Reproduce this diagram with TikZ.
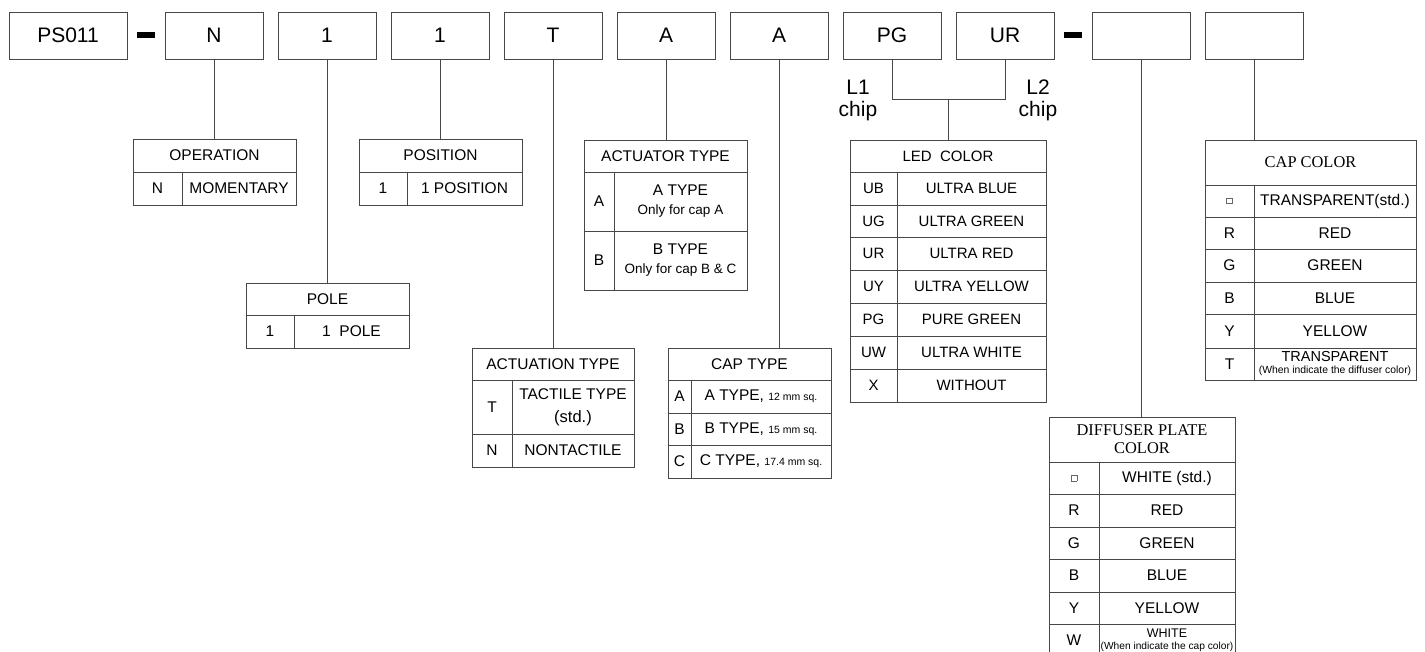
\documentclass[tikz,border=0pt]{standalone}
\usepackage{fontspec}
\setmainfont{Liberation Sans}
\newfontfamily\tmsfont{Liberation Serif}
\colorlet{lc}{black!72}
\newcommand\cellat[6]{\node[cell,minimum width=#4pt,minimum height=#5pt] (#1) at (#2,#3) {#6};}
\newcommand\sq{{\color{black!60}\fboxsep=0pt\fboxrule=0.6pt\fbox{\rule{0pt}{5pt}\rule{5pt}{0pt}}}}
\newcommand\smalltxt[1]{{\fontsize{13.5}{15}\selectfont #1}}
\newcommand\tinytxt[1]{{\fontsize{10.5}{12}\selectfont #1}}
\tikzset{
  topbox/.style={draw=lc, line width=0.9pt, minimum width=98pt, minimum height=47pt,
    inner sep=0pt, outer sep=0pt, anchor=north west, font=\fontsize{21}{21}\selectfont},
  cell/.style={draw=lc, line width=0.9pt, inner sep=0pt, outer sep=0pt, anchor=north west,
    align=center, font=\fontsize{15.5}{20}\selectfont},
  serifhead/.style={cell, font=\tmsfont\fontsize{16.4}{18}\selectfont},
  conn/.style={draw=lc, line width=0.9pt},
  dashbar/.style={fill=black, draw=none, inner sep=0pt, minimum width=18pt, minimum height=6pt},
  chiplabel/.style={anchor=base, inner sep=0pt, font=\fontsize{21}{21}\selectfont},
}
\begin{document}
\begin{tikzpicture}[x=1pt,y=-1pt]
\useasboundingbox (0,0) rectangle (1425,652);
\clip (0,0) rectangle (1425,652);
\fill[white] (0,0) rectangle (1425,652);

% top row
\node[topbox, minimum width=118pt] (ps) at (9,12) {PS011};
\node[dashbar] (d1) at (146,35) {};
\node[topbox] (bn) at (165,12) {N};
\node[topbox] (bp) at (278,12) {1};
\node[topbox] (bs) at (391,12) {1};
\node[topbox] (bt) at (504,12) {T};
\node[topbox] (ba) at (617,12) {A};
\node[topbox] (bc) at (730,12) {A};
\node[topbox] (bpg) at (843,12) {PG};
\node[topbox] (bur) at (956,12) {UR};
\node[dashbar] (d2) at (1073,35) {};
\node[topbox] (bdf) at (1092,12) {};
\node[topbox] (bcc) at (1205,12) {};

\node[chiplabel] (l1a) at (858,95) {L1};
\node[chiplabel] (l1b) at (858,117) {chip};
\node[chiplabel] (l2a) at (1038,95) {L2};
\node[chiplabel] (l2b) at (1038,117) {chip};

% OPERATION
\cellat{opH}{133}{139}{163}{33}{OPERATION}
\cellat{opK}{133}{172}{49}{33}{N}
\cellat{opV}{182}{172}{114}{33}{MOMENTARY}
% POSITION
\cellat{posH}{359}{139}{163}{33}{POSITION}
\cellat{posK}{359}{172}{48}{33}{1}
\cellat{posV}{407}{172}{115}{33}{1 POSITION}
% POLE
\cellat{poleH}{246}{283}{163}{32}{POLE}
\cellat{poleK}{246}{315}{48}{33}{1}
\cellat{poleV}{294}{315}{115}{33}{1\ \ POLE}
% ACTUATOR TYPE
\cellat{actH}{584}{140}{163}{32}{ACTUATOR TYPE}
\cellat{actKa}{584}{172}{30}{59}{A}
\cellat{actVa}{614}{172}{133}{59}{A TYPE\\[-1pt]\smalltxt{Only for cap A}}
\cellat{actKb}{584}{231}{30}{59}{B}
\cellat{actVb}{614}{231}{133}{59}{B TYPE\\[-1pt]\smalltxt{Only for cap B \& C}}
% ACTUATION TYPE
\cellat{atnH}{472}{348}{162}{32}{ACTUATION TYPE}
\cellat{atnKa}{472}{380}{40}{54}{T}
\cellat{atnVa}{512}{380}{122}{54}{TACTILE TYPE\\[3pt]{\fontsize{16.5}{20}\selectfont (std.)}}
\cellat{atnKb}{472}{434}{40}{33}{N}
\cellat{atnVb}{512}{434}{122}{33}{NONTACTILE}
% CAP TYPE
\cellat{ctH}{668}{348}{163}{32}{CAP TYPE}
\cellat{ctKa}{668}{380}{23}{33}{A}
\cellat{ctVa}{691}{380}{140}{33}{A TYPE, \tinytxt{12 mm sq.}}
\cellat{ctKb}{668}{413}{23}{32}{B}
\cellat{ctVb}{691}{413}{140}{32}{B TYPE, \tinytxt{15 mm sq.}}
\cellat{ctKc}{668}{445}{23}{33}{C}
\cellat{ctVc}{691}{445}{140}{33}{C TYPE, \tinytxt{17.4 mm sq.}}
% LED COLOR
\begin{scope}[cell/.append style={font=\fontsize{15}{18}\selectfont}]
\cellat{led}{850}{140}{196}{32}{LED\ \ COLOR}
\cellat{ledKa}{850}{172}{47}{33}{UB}
\cellat{ledVa}{897}{172}{149}{33}{ULTRA BLUE}
\cellat{ledKb}{850}{205}{47}{32}{UG}
\cellat{ledVb}{897}{205}{149}{32}{ULTRA GREEN}
\cellat{ledKc}{850}{237}{47}{33}{UR}
\cellat{ledVc}{897}{237}{149}{33}{ULTRA RED}
\cellat{ledKd}{850}{270}{47}{33}{UY}
\cellat{ledVd}{897}{270}{149}{33}{ULTRA YELLOW}
\cellat{ledKe}{850}{303}{47}{33}{PG}
\cellat{ledVe}{897}{303}{149}{33}{PURE GREEN}
\cellat{ledKf}{850}{336}{47}{33}{UW}
\cellat{ledVf}{897}{336}{149}{33}{ULTRA WHITE}
\cellat{ledKg}{850}{369}{47}{33}{X}
\cellat{ledVg}{897}{369}{149}{33}{WITHOUT}
\end{scope}
% CAP COLOR
\node[serifhead, minimum width=211pt, minimum height=45pt] (ccH) at (1205,140) {CAP COLOR};
\cellat{ccKa}{1205}{185}{49}{32}{\sq}
\cellat{ccVa}{1254}{185}{162}{32}{TRANSPARENT(std.)}
\cellat{ccKb}{1205}{217}{49}{32}{R}
\cellat{ccVb}{1254}{217}{162}{32}{RED}
\cellat{ccKc}{1205}{249}{49}{33}{G}
\cellat{ccVc}{1254}{249}{162}{33}{GREEN}
\cellat{ccKd}{1205}{282}{49}{32}{B}
\cellat{ccVd}{1254}{282}{162}{32}{BLUE}
\cellat{ccKe}{1205}{314}{49}{34}{Y}
\cellat{ccVe}{1254}{314}{162}{34}{YELLOW}
\cellat{ccKf}{1205}{348}{49}{32}{T}
\cellat{ccVf}{1254}{348}{162}{32}{{\fontsize{14.5}{17}\selectfont TRANSPARENT}\\[-8pt]{\fontsize{10.4}{12}\selectfont (When indicate the diffuser color)}}
% DIFFUSER PLATE COLOR
\node[serifhead, minimum width=186pt, minimum height=45pt] (dfH) at (1049,417) {DIFFUSER PLATE\\COLOR};
\cellat{dfKa}{1049}{462}{50}{32}{\sq}
\cellat{dfVa}{1099}{462}{136}{32}{WHITE (std.)}
\cellat{dfKb}{1049}{494}{50}{33}{R}
\cellat{dfVb}{1099}{494}{136}{33}{RED}
\cellat{dfKc}{1049}{527}{50}{32}{G}
\cellat{dfVc}{1099}{527}{136}{32}{GREEN}
\cellat{dfKd}{1049}{559}{50}{33}{B}
\cellat{dfVd}{1099}{559}{136}{33}{BLUE}
\cellat{dfKe}{1049}{592}{50}{32}{Y}
\cellat{dfVe}{1099}{592}{136}{32}{YELLOW}
\cellat{dfKf}{1049}{624}{50}{33}{W}
\cellat{dfVf}{1099}{624}{136}{33}{{\fontsize{12.5}{14}\selectfont WHITE}\\[-8pt]{\fontsize{10.2}{12}\selectfont (When indicate the cap color)}}

% connectors
\draw[conn] (bn.south) -- (bn.south |- opH.north);
\draw[conn] (bp.south) -- (bp.south |- poleH.north);
\draw[conn] (bs.south) -- (bs.south |- posH.north);
\draw[conn] (bt.south) -- (bt.south |- atnH.north);
\draw[conn] (ba.south) -- (ba.south |- actH.north);
\draw[conn] (bc.south) -- (bc.south |- ctH.north);
\coordinate (hl) at (0,99);
\draw[conn] (bpg.south) |- (bur.south |- hl) -- (bur.south);
\draw[conn] (led.north |- hl) -- (led.north);
\draw[conn] (bdf.south) -- (bdf.south |- dfH.north);
\draw[conn] (bcc.south) -- (bcc.south |- ccH.north);
\end{tikzpicture}
\end{document}
